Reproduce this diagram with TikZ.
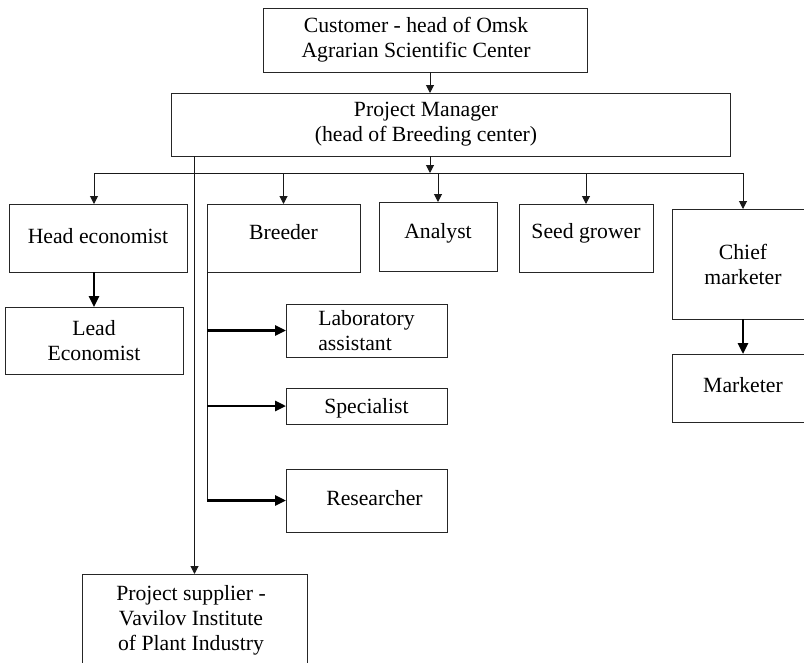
\documentclass[tikz,border=0pt]{standalone}
\usepackage{fontspec}
\setmainfont{Liberation Serif}
\usetikzlibrary{arrows.meta}
\begin{document}
\begin{tikzpicture}[x=1pt,y=-1pt,
  box/.style={draw=black!85, line width=1pt, inner sep=0pt, outer sep=0pt,
    font=\fontsize{21.7}{25}\selectfont, align=center},
  wh/.style 2 args={minimum width=#1pt, minimum height=#2pt},
  bl/.style 2 args={text height=#1pt, text depth=#2pt},
  conn/.style={line width=1pt, draw=black!90},
  arr/.style={conn, -{Triangle[length=8pt,width=8pt]}},
  tarr/.style={line width=2.6pt, draw=black, -{Triangle[length=11pt,width=10pt]}}]
\useasboundingbox (0,0) rectangle (804,662);
\fill[white] (0,0) rectangle (804,662);

% boxes
\node[box, wh={324}{64}] (cust) at (425,40)
  {\hspace*{-18pt}Customer - head of Omsk\\\hspace*{-18pt}Agrarian Scientific Center};
\node[box, wh={559}{63}] (pm) at (450.5,124.5)
  {\hspace*{-49pt}Project Manager\\\hspace*{-49pt}(head of Breeding center)};
\node[box, wh={178}{68}, bl={17}{7}] (head) at (98,238) {Head economist};
\node[box, wh={178}{67}] (lead) at (94,340.5) {Lead\\Economist};
\node[box, wh={153}{68}, bl={13}{11}] (breeder) at (283.5,238) {Breeder};
\node[box, wh={118}{69}, bl={13.5}{10.5}] (analyst) at (438,236.5) {Analyst};
\node[box, wh={134}{68}, bl={12}{12}] (seed) at (586,238) {Seed grower};
\node[box, wh={142}{110}] (chief) at (743,264) {Chief\\marketer};
\node[box, wh={142}{68}, bl={16}{8}] (market) at (743,388) {Marketer};
\node[box, wh={161}{53}, align=left] (lab) at (366.5,330.5) {Laboratory\\assistant};
\node[box, wh={161}{36}, bl={19}{5}] (spec) at (366.5,406) {Specialist};
\node[box, wh={161}{63}, bl={16.5}{7.5}] (res) at (366.5,500.5) {\hspace*{16pt}Researcher};
\node[box, wh={225}{92}] (supp) at (194.5,620)
  {\hspace*{-7pt}Project supplier -\\\hspace*{-7pt}Vavilov Institute\\\hspace*{-7pt}of Plant Industry};

% connectors
\coordinate (j) at (430,173);
\draw[arr] (cust.south -| j) -- (pm.north -| j);
\draw[arr] (pm.south -| j) -- (j);
\draw[conn] (lead.north |- j) -- (chief.north |- j);
\draw[arr] (lead.north |- j) -- (head.north -| lead.north);
\draw[arr] (breeder.north |- j) -- (breeder.north);
\draw[arr] (analyst.north |- j) -- (analyst.north);
\draw[arr] (seed.north |- j) -- (seed.north);
\draw[arr] (chief.north |- j) -- (chief.north);

\draw[tarr] (head.south -| lead.north) -- (lead.north);
\draw[tarr] (chief.south) -- (market.north);

\draw[arr] (pm.south -| supp.north) -- (supp.north);

\draw[conn] (breeder.south west) -- (breeder.south west |- res.west);
\draw[tarr] (breeder.south west |- lab.west) -- (lab.west);
\draw[tarr] (breeder.south west |- spec.west) -- (spec.west);
\draw[tarr] (breeder.south west |- res.west) -- (res.west);
\end{tikzpicture}
\end{document}
